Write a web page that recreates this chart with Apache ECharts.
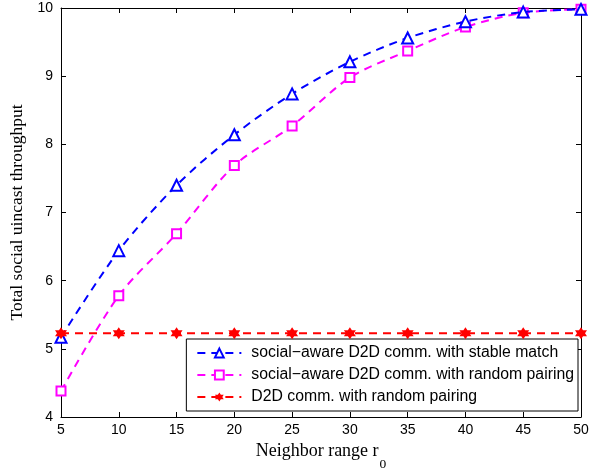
<!DOCTYPE html>
<html>
<head>
<meta charset="utf-8">
<script src="https://cdn.jsdelivr.net/npm/echarts@6/dist/echarts.min.js"></script>
<style>html,body{margin:0;padding:0;background:#fff}#c{width:609px;height:472px}</style>
</head>
<body>
<div id="c"></div>
<script>
const ranges = [5, 10, 15, 20, 25, 30, 35, 40, 45, 50];
const stableMatch = [5.17, 6.44, 7.40, 8.14, 8.74, 9.21, 9.56, 9.80, 9.94, 9.98];
const socialRandom = [4.38, 5.78, 6.69, 7.69, 8.27, 8.98, 9.37, 9.72, 9.93, 9.98];
const d2dRandom = [5.23, 5.23, 5.23, 5.23, 5.23, 5.23, 5.23, 5.23, 5.23, 5.23];
const seriesNames = [
  'social\u2212aware D2D comm. with stable match',
  'social\u2212aware D2D comm. with random pairing',
  'D2D comm. with random pairing'
];
const xTicks = [5, 10, 15, 20, 25, 30, 35, 40, 45, 50];
const yTicks = [4, 5, 6, 7, 8, 9, 10];

const star = 'path://M0,-10 L2.9,-5 L8.66,-5 L5.8,0 L8.66,5 L2.9,5 L0,10 L-2.9,5 L-8.66,5 L-5.8,0 L-8.66,-5 L-2.9,-5 Z';
const pair = a => ranges.map((x, i) => [x, a[i]]);
const tickFont = {fontFamily: 'Liberation Sans', fontSize: 14, color: '#000'};

const chart = echarts.init(document.getElementById('c'), null, {renderer: 'canvas'});
chart.setOption({
  animation: false,
  backgroundColor: '#fff',
  grid: {left: 61, right: 28, top: 8, bottom: 55, show: false, containLabel: false, outerBoundsMode: 'none'},
  legend: {
    right: 31, bottom: 61,
    orient: 'vertical',
    align: 'left',
    backgroundColor: '#fff',
    borderColor: '#000', borderWidth: 1, borderRadius: 0,
    padding: [6, 4, 6, 10],
    itemGap: 6,
    itemWidth: 44, itemHeight: 11,
    textStyle: {fontFamily: 'Liberation Sans', fontSize: 15.8, lineHeight: 16, color: '#000', padding: [0, 0, 0, 5]},
    data: seriesNames
  },
  xAxis: [{
    type: 'value', min: 5, max: 50, interval: 5,
    name: '{a|Neighbor range r}{s|0}',
    nameLocation: 'middle', nameGap: 25,
    nameTextStyle: {rich: {
      a: {fontFamily: 'Liberation Serif', fontSize: 18, color: '#000'},
      s: {fontFamily: 'Liberation Serif', fontSize: 13.5, color: '#000', verticalAlign: 'bottom', padding: [0, 0, -11, 1]}
    }},
    axisLine: {lineStyle: {color: '#000', width: 1}},
    axisTick: {inside: true, length: 5, lineStyle: {color: '#000'}},
    axisLabel: Object.assign({margin: 6}, tickFont),
    splitLine: {show: false}
  }, {
    type: 'value', min: 5, max: 50, interval: 5, position: 'top',
    axisLine: {lineStyle: {color: '#000', width: 1}},
    axisTick: {inside: true, length: 5, lineStyle: {color: '#000'}},
    axisLabel: {show: false}, splitLine: {show: false}
  }],
  yAxis: [{
    type: 'value', min: 4, max: 10, interval: 1,
    name: 'Total social uincast throughput',
    nameLocation: 'middle', nameGap: 33, nameRotate: 90,
    nameTextStyle: {fontFamily: 'Liberation Serif', fontSize: 17.5, color: '#000'},
    axisLine: {show: true, lineStyle: {color: '#000', width: 1}},
    axisTick: {show: true, inside: true, length: 5, lineStyle: {color: '#000'}},
    axisLabel: Object.assign({margin: 8}, tickFont),
    splitLine: {show: false}
  }, {
    type: 'value', min: 4, max: 10, interval: 1, position: 'right',
    axisLine: {show: true, lineStyle: {color: '#000', width: 1}},
    axisTick: {show: true, inside: true, length: 5, lineStyle: {color: '#000'}},
    axisLabel: {show: false}, splitLine: {show: false}
  }],
  series: [{
    name: seriesNames[0], type: 'line', data: pair(stableMatch), smooth: 0.3,
    symbol: 'emptyTriangle', symbolSize: 11,
    itemStyle: {color: '#0000ff', borderWidth: 1.6},
    lineStyle: {color: '#0000ff', width: 2, type: [8, 6]}, z: 3
  }, {
    name: seriesNames[1], type: 'line', data: pair(socialRandom), smooth: 0.3,
    symbol: 'emptyRect', symbolSize: 9,
    itemStyle: {color: '#ff00ff', borderWidth: 1.6},
    lineStyle: {color: '#ff00ff', width: 2, type: [8, 6]}, z: 2
  }, {
    name: seriesNames[2], type: 'line', data: pair(d2dRandom),
    symbol: star, symbolSize: 12,
    itemStyle: {color: '#ff0000'},
    lineStyle: {color: '#ff0000', width: 2, type: [8, 6]}, z: 4
  }]
});
</script>
</body>
</html>
